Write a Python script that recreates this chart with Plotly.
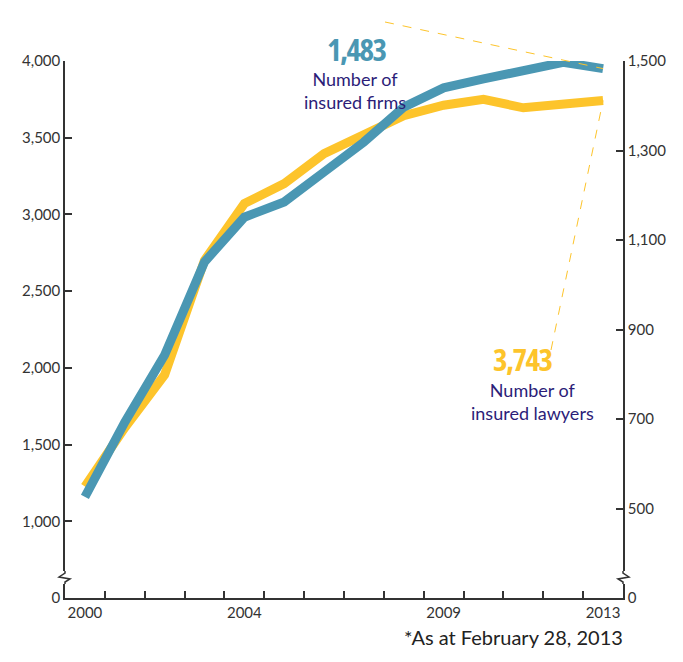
import plotly.graph_objects as go

# Insured lawyers (left axis) and insured firms (right axis), 2000-2013
years = list(range(2000, 2014))
lawyers = [1227, 1610, 1955, 2701, 3071, 3201, 3396, 3526, 3643, 3712, 3750, 3695, 3725, 3743]
firms = [526, 693, 843, 1051, 1151, 1185, 1252, 1319, 1397, 1440, 1460, 1478, 1497, 1483]

left_ticks = [500, 1000, 1500, 2000, 2500, 3000, 3500, 4000]
left_text = ["0", "1,000", "1,500", "2,000", "2,500", "3,000", "3,500", "4,000"]
right_ticks = [300, 500, 700, 900, 1100, 1300, 1500]
right_text = ["0", "500", "700", "900", "1,100", "1,300", "1,500"]
year_labels = [2000, 2004, 2009, 2013]

TEAL = "#4a97b3"
GOLD = "#fdc42b"
INK = "#2c1d78"
AXIS = "#333333"

W, H = 683, 662
ML, MR, MT, MB = 65, 60, 61, 64
PW, PH = W - ML - MR, H - MT - MB

XR = [1999.5, 2013.5]
YL = [500, 4000]
YR = [300, 1500]


def px(x):
    return (x - ML) / PW


def py(y):
    return (H - MB - y) / PH


def data_x(v):
    return (v - XR[0]) / (XR[1] - XR[0])


def data_y(v, r):
    return (v - r[0]) / (r[1] - r[0])


fig = go.Figure()
fig.add_trace(go.Scatter(x=years, y=lawyers, mode="lines", name="Number of insured lawyers",
                         line=dict(color=GOLD, width=9), yaxis="y", hoverinfo="skip"))
fig.add_trace(go.Scatter(x=years, y=firms, mode="lines", name="Number of insured firms",
                         line=dict(color=TEAL, width=9), yaxis="y2", hoverinfo="skip"))

tick_font = dict(family="Lato, sans-serif", size=15, color=AXIS)

fig.update_layout(
    width=W, height=H,
    margin=dict(l=ML, r=MR, t=MT, b=MB),
    paper_bgcolor="white", plot_bgcolor="white",
    showlegend=False,
    xaxis=dict(range=XR, showgrid=False, zeroline=False, showline=True, linecolor=AXIS,
               linewidth=1.5, tickmode="array", tickvals=year_labels,
               ticktext=[str(v) for v in year_labels], ticks="", tickfont=tick_font,
               minor=dict(tickmode="array", tickvals=[y + 0.5 for y in years[:-1]],
                          ticks="inside", ticklen=7, tickwidth=1.5, tickcolor=AXIS)),
    yaxis=dict(range=YL, showgrid=False, zeroline=False, showline=True, linecolor=AXIS,
               linewidth=1.5, tickmode="array", tickvals=left_ticks, ticktext=left_text,
               ticks="inside", ticklen=7, tickwidth=1.5, tickcolor=AXIS, tickfont=tick_font),
    yaxis2=dict(range=YR, overlaying="y", side="right", showgrid=False, zeroline=False,
                showline=True, linecolor=AXIS, linewidth=1.5, tickmode="array",
                tickvals=right_ticks, ticktext=right_text, ticks="inside", ticklen=7,
                tickwidth=1.5, tickcolor=AXIS, tickfont=tick_font),
)

# Axis breaks near the bottom of both value axes
shapes = []
for xa, d in ((ML, -1), (W - MR, 1)):
    shapes.append(dict(type="rect", xref="paper", yref="paper",
                       x0=px(xa - 2), x1=px(xa + 2), y0=py(584), y1=py(571),
                       fillcolor="white", line=dict(width=0), layer="above"))
    path = "M {} {} L {} {} L {} {} L {} {} L {} {} L {} {}".format(
        px(xa), py(571), px(xa), py(573), px(xa + 6 * d), py(577),
        px(xa - 5 * d), py(579), px(xa), py(582), px(xa), py(584))
    shapes.append(dict(type="path", xref="paper", yref="paper", path=path,
                       line=dict(color=AXIS, width=1.5), layer="above"))

# Dashed leaders from the callouts to the 2013 values
shapes.append(dict(type="line", xref="paper", yref="paper",
                   x0=px(385), y0=py(22),
                   x1=data_x(years[-1]), y1=data_y(firms[-1], YR),
                   line=dict(color=GOLD, width=1, dash="dash"), layer="above"))
shapes.append(dict(type="line", xref="paper", yref="paper",
                   x0=px(551), y0=py(350),
                   x1=data_x(years[-1]), y1=data_y(lawyers[-1], YL),
                   line=dict(color=GOLD, width=1, dash="dash"), layer="above"))
fig.update_layout(shapes=shapes)


def callout(v):
    return ('<span style="font-stretch:62.5%;font-weight:bold;'
            'letter-spacing:-1.5px">{:,}</span>').format(v)


big_font = "Open Sans, sans-serif"
label_font = dict(family="Lato, sans-serif", size=18, color=INK)
annotations = [
    dict(text=callout(firms[-1]), x=px(357), y=py(26), xref="paper", yref="paper",
         xanchor="center", showarrow=False, font=dict(family=big_font, size=31, color=TEAL)),
    dict(text="Number of<br>insured firms", x=px(355), y=py(66), xref="paper", yref="paper",
         xanchor="center", showarrow=False, font=label_font, align="center"),
    dict(text=callout(lawyers[-1]), x=px(523), y=py(359), xref="paper", yref="paper",
         xanchor="center", showarrow=False, font=dict(family=big_font, size=31, color=GOLD)),
    dict(text="Number of<br>insured lawyers", x=px(532), y=py(402), xref="paper", yref="paper",
         xanchor="center", showarrow=False, font=label_font, align="center"),
    dict(text="*As at February 28, 2013", x=px(625), y=py(651), xref="paper", yref="paper",
         xanchor="right", showarrow=False,
         font=dict(family="Lato, sans-serif", size=20, color="#222222")),
]
fig.update_layout(annotations=annotations)

fig.write_html("out.html")
